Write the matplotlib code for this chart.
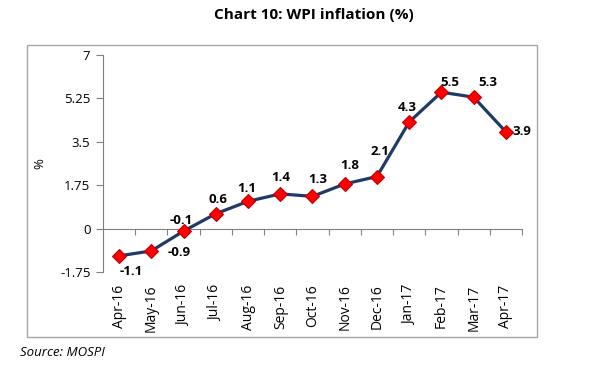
import matplotlib
matplotlib.use("Agg")
import matplotlib.pyplot as plt
from matplotlib.patches import Rectangle

months = ["Apr-16", "May-16", "Jun-16", "Jul-16", "Aug-16", "Sep-16", "Oct-16",
          "Nov-16", "Dec-16", "Jan-17", "Feb-17", "Mar-17", "Apr-17"]
wpi = [-1.1, -0.9, -0.1, 0.6, 1.1, 1.4, 1.3, 1.8, 2.1, 4.3, 5.5, 5.3, 3.9]
yticks = [-1.75, 0, 1.75, 3.5, 5.25, 7]
ytick_labels = ["-1.75", "0", "1.75", "3.5", "5.25", "7"]
# label offsets in pixels (dx, dy) relative to marker
label_offsets = [(12, -16), (28, -2), (-2, 11), (2, 14), (-1, 13), (0, 16), (5, 17),
                 (5, 18), (3, 25), (-2, 14), (8, 10), (14, 15), (16, 0)]

plt.rcParams['font.family'] = ['Open Sans', 'DejaVu Sans']

W, H = 594, 367
fig = plt.figure(figsize=(W / 100, H / 100), dpi=100)

# outer chart box
fig.patches.append(Rectangle((27 / W, (H - 337) / H), 510 / W, 292 / H,
                             transform=fig.transFigure, fill=False,
                             edgecolor="#A6A6A6", linewidth=1.0))

ax = fig.add_axes([103 / W, (H - 272) / H, 419 / W, 217 / H])
x = list(range(len(months)))
ax.plot(x, wpi, color="#1F3A64", linewidth=2.3, zorder=2)
ax.plot(x, wpi, linestyle="none", marker="D", markersize=7.5,
        markerfacecolor="#FF0000", markeredgecolor="#C00000",
        markeredgewidth=0.8, zorder=3)

px2pt = 72 / 100
for xi, v, (dx, dy) in zip(x, wpi, label_offsets):
    ax.annotate(f"{v:g}", (xi, v), xytext=(dx * px2pt, dy * px2pt),
                textcoords="offset points", ha="center", va="center",
                fontsize=9.5, fontweight="bold", color="#000000", zorder=4)

ax.set_xlim(-0.5, len(months) - 0.5)
ax.set_ylim(-1.75, 7)
ax.set_yticks(yticks)
ax.set_yticklabels(ytick_labels)
ax.tick_params(axis="y", direction="out", length=5, width=0.8,
               color="#808080", labelsize=9.5, labelcolor="#000000", pad=4)

for s in ["top", "right"]:
    ax.spines[s].set_visible(False)
ax.spines["left"].set_color("#808080")
ax.spines["left"].set_linewidth(0.8)
ax.spines["bottom"].set_position(("data", 0))
ax.spines["bottom"].set_color("#808080")
ax.spines["bottom"].set_linewidth(0.8)

ax.set_xticks([i + 0.5 for i in x])
ax.set_xticklabels([])
ax.tick_params(axis="x", direction="out", length=4, width=0.8, color="#808080")

sec = ax.secondary_xaxis("bottom")
sec.set_xticks(x)
sec.set_xticklabels(months, rotation=90, fontsize=10)
sec.tick_params(length=0, pad=9)
sec.spines["bottom"].set_visible(False)

ax.set_ylabel("%", fontsize=9.5)
ax.yaxis.set_label_coords(-57 / 419, (272 - 164) / 217)

fig.text(314 / W, 1 - 15 / H, "Chart 10: WPI inflation (%)", ha="center",
         va="center", fontsize=11, fontweight="bold")
fig.text(20 / W, 1 - 353 / H, "Source: MOSPI", ha="left", va="center",
         fontsize=9.5, style="italic")

fig.savefig("out.png", dpi=100)
